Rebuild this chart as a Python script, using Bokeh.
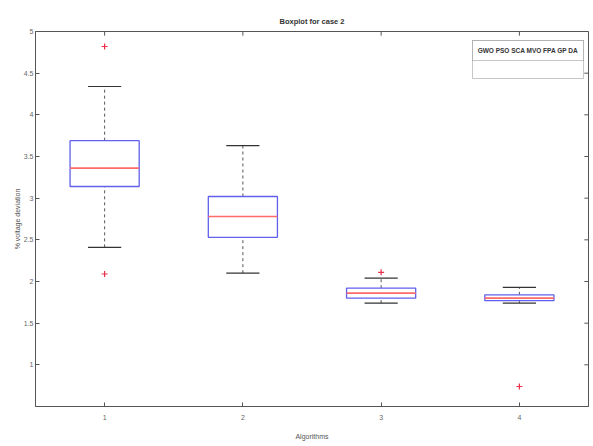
from bokeh.plotting import figure
from bokeh.models import FixedTicker, BoxAnnotation, Label
from bokeh.embed import file_html
from bokeh.resources import INLINE

# ---- data ----
algorithms = ["1", "2", "3", "4"]
positions = [1, 2, 3, 4]
q1 = [3.14, 2.53, 1.80, 1.77]
median = [3.36, 2.78, 1.86, 1.80]
q3 = [3.69, 3.02, 1.92, 1.84]
whisker_low = [2.41, 2.10, 1.74, 1.74]
whisker_high = [4.34, 3.63, 2.04, 1.93]
outlier_x = [1, 1, 3, 4]
outlier_y = [4.82, 2.09, 2.11, 0.74]
y_ticks = [1, 1.5, 2, 2.5, 3, 3.5, 4, 4.5, 5]
y_tick_labels = ["1", "1.5", "2", "2.5", "3", "3.5", "4", "4.5", "5"]
legend_text = "GWO PSO SCA MVO FPA GP DA"

X0, X1 = 0.5, 4.5
Y0, Y1 = 0.5, 5.0
BOX_W = 0.5
CAP_W = 0.24
TICK_X = 0.03   # inner tick length along x (data units)
TICK_Y = 0.05   # inner tick length along y (data units)
FONT = "Liberation Sans"
AX = "#555555"

p = figure(width=593, height=446, x_range=(X0, X1), y_range=(Y0, Y1),
           output_backend="svg", toolbar_location=None,
           min_border_left=35, min_border_right=5, min_border_top=31,
           min_border_bottom=40, title="Boxplot for case 2")
p.title.align = "center"
p.title.text_font = FONT
p.title.text_font_size = "7.5px"
p.title.text_font_style = "bold"
p.title.text_color = "#333333"
p.title.offset = 0
p.title.standoff = 12

p.xgrid.visible = False
p.ygrid.visible = False
p.outline_line_color = AX
p.background_fill_color = "white"
p.border_fill_color = "white"

# axes
p.xaxis.ticker = FixedTicker(ticks=positions)
p.xaxis.major_label_overrides = {pos: lab for pos, lab in zip(positions, algorithms)}
p.yaxis.ticker = FixedTicker(ticks=y_ticks)
p.yaxis.major_label_overrides = {t: l for t, l in zip(y_ticks, y_tick_labels)}
for ax in (p.xaxis[0], p.yaxis[0]):
    ax.axis_line_color = AX
    ax.major_tick_line_color = AX
    ax.major_tick_in = 4
    ax.major_tick_out = 0
    ax.minor_tick_line_color = None
    ax.major_label_text_font = FONT
    ax.major_label_text_font_size = "7px"
    ax.major_label_text_color = "#666666"
    ax.axis_label_text_font = FONT
    ax.axis_label_text_font_size = "7px"
    ax.axis_label_text_font_style = "normal"
    ax.axis_label_text_color = "#555555"
p.xaxis.axis_label = "Algorithms"
p.xaxis.major_label_standoff = 8
p.xaxis.axis_label_standoff = 10
p.yaxis.axis_label = "% voltage deviation"
p.yaxis.major_label_standoff = 2
p.yaxis.axis_label_standoff = 0

# top / right box ticks (MATLAB box), derived from the tick arrays
p.segment(x0=positions, y0=[Y1] * len(positions), x1=positions,
          y1=[Y1 - TICK_Y] * len(positions), line_color=AX, line_width=1)
p.segment(x0=[X1] * len(y_ticks), y0=y_ticks, x1=[X1 - TICK_X] * len(y_ticks),
          y1=y_ticks, line_color=AX, line_width=1)

# whiskers
p.segment(x0=positions, y0=q3, x1=positions, y1=whisker_high,
          line_color="#555555", line_dash="3 3", line_width=1)
p.segment(x0=positions, y0=whisker_low, x1=positions, y1=q1,
          line_color="#555555", line_dash="3 3", line_width=1)
# caps
p.segment(x0=[x - CAP_W / 2 for x in positions], y0=whisker_high,
          x1=[x + CAP_W / 2 for x in positions], y1=whisker_high,
          line_color="#333333", line_width=1.2)
p.segment(x0=[x - CAP_W / 2 for x in positions], y0=whisker_low,
          x1=[x + CAP_W / 2 for x in positions], y1=whisker_low,
          line_color="#333333", line_width=1.2)
# boxes
p.vbar(x=positions, width=BOX_W, bottom=q1, top=q3, fill_color="white",
       line_color="#6060ec", line_width=1.3)
# medians
p.segment(x0=[x - BOX_W / 2 for x in positions], y0=median,
          x1=[x + BOX_W / 2 for x in positions], y1=median,
          line_color="#ff6a6a", line_width=1.6)
# outliers
p.scatter(x=outlier_x, y=outlier_y, marker="cross", size=6,
          line_color="#e8304a", line_width=1.2)

# legend box (MATLAB style)
p.add_layout(BoxAnnotation(left=3.661, right=4.464, bottom=4.436, top=4.892,
                           fill_color="white", fill_alpha=1, line_color="#444444",
                           line_width=1, level="overlay"))
p.add_layout(BoxAnnotation(left=3.661, right=4.464, bottom=4.652, top=4.892,
                           fill_color="white", fill_alpha=1, line_color="#444444",
                           line_width=1, level="overlay"))
p.add_layout(Label(x=4.062, y=4.772, text=legend_text, text_align="center",
                   text_baseline="middle", text_font=FONT, text_font_size="6.5px",
                   text_font_style="bold", text_color="#333333", level="overlay"))

open("out.html", "w").write(file_html(p, INLINE))
